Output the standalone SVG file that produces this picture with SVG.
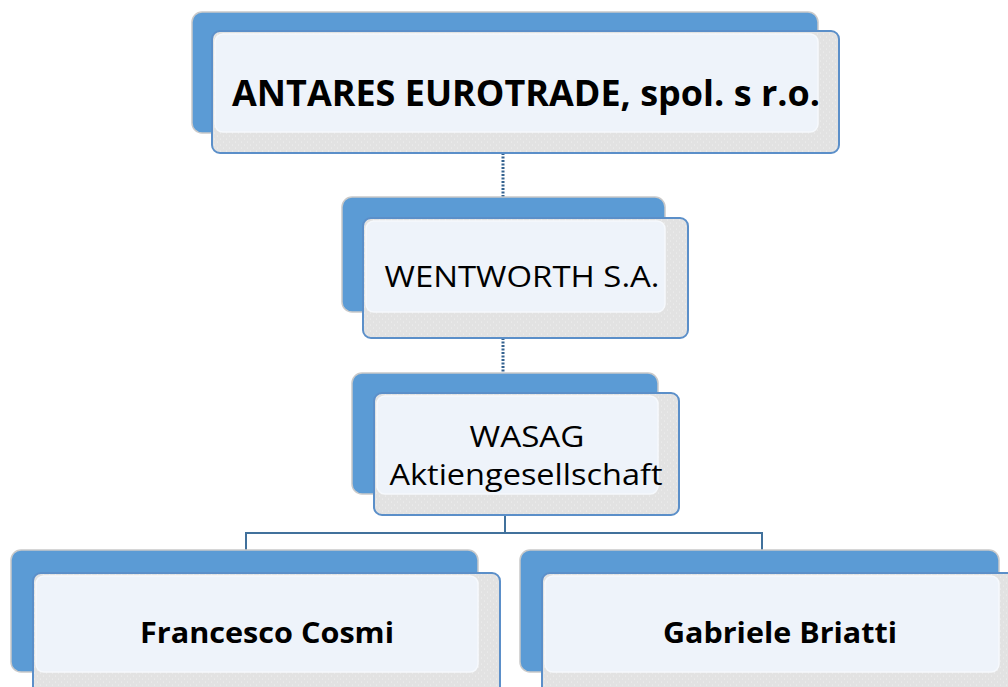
<svg xmlns="http://www.w3.org/2000/svg" width="1008" height="687" viewBox="0 0 1008 687">
<defs>
<pattern id="dots" width="6" height="6" patternUnits="userSpaceOnUse">
<rect width="6" height="6" fill="#e2e2e2"/>
<circle cx="1.5" cy="4" r="0.6" fill="#f4f4f4"/>
<circle cx="4.5" cy="1" r="0.6" fill="#f4f4f4"/>
</pattern>
</defs>
<style>
.back{fill:#5b9bd5;stroke:#c9c9c9;stroke-width:1.5}
.front{fill:url(#dots);stroke:#5b8fc9;stroke-width:2}
.inner{fill:#eef3fa;stroke:#f6f9fd;stroke-width:1.5}
.conn{fill:none;stroke:#41719c;stroke-width:2}
.dash{fill:none;stroke:#34628f;stroke-width:3;stroke-dasharray:2 1.5}
text{font-family:"Open Sans","Noto Sans",sans-serif;fill:#000;text-anchor:middle}
.b{font-weight:bold}
</style>
<g id="connectors">
<line class="dash" x1="503" y1="153" x2="503" y2="197"/>
<line class="dash" x1="503" y1="338" x2="503" y2="373"/>
<path class="conn" d="M505 515 V533 M246 550 V533 H762 V550"/>
</g>
<g id="antares">
<rect class="back" x="192" y="12" width="626" height="121" rx="10"/>
<rect class="front" x="212" y="31" width="627" height="122" rx="8"/>
<rect class="inner" x="215" y="34" width="603" height="98" rx="8"/>
<text class="b" x="526" y="106" font-size="35" textLength="588" lengthAdjust="spacingAndGlyphs">ANTARES EUROTRADE, spol. s r.o.</text>
</g>
<g id="wentworth">
<rect class="back" x="342" y="197" width="323" height="115" rx="10"/>
<rect class="front" x="363" y="218" width="325" height="120" rx="8"/>
<rect class="inner" x="366" y="221" width="299" height="91" rx="8"/>
<text x="522" y="287" font-size="30" textLength="275" lengthAdjust="spacingAndGlyphs">WENTWORTH S.A.</text>
</g>
<g id="wasag">
<rect class="back" x="352" y="373" width="306" height="121" rx="10"/>
<rect class="front" x="374" y="393" width="305" height="122" rx="8"/>
<rect class="inner" x="377" y="396" width="281" height="98" rx="8"/>
<text x="527" y="447" font-size="30" textLength="115" lengthAdjust="spacingAndGlyphs">WASAG</text>
<text x="526" y="485" font-size="30" textLength="273" lengthAdjust="spacingAndGlyphs">Aktiengesellschaft</text>
</g>
<g id="cosmi">
<rect class="back" x="11" y="550" width="467" height="122" rx="10"/>
<rect class="front" x="33" y="573" width="467" height="130" rx="8"/>
<rect class="inner" x="36" y="576" width="442" height="96" rx="8"/>
<text class="b" x="267" y="643" font-size="29" textLength="254" lengthAdjust="spacingAndGlyphs">Francesco Cosmi</text>
</g>
<g id="briatti">
<rect class="back" x="520" y="550" width="479" height="122" rx="10"/>
<rect class="front" x="542" y="573" width="480" height="130" rx="8"/>
<rect class="inner" x="545" y="576" width="454" height="96" rx="8"/>
<text class="b" x="780" y="643" font-size="29" textLength="234" lengthAdjust="spacingAndGlyphs">Gabriele Briatti</text>
</g>
</svg>
